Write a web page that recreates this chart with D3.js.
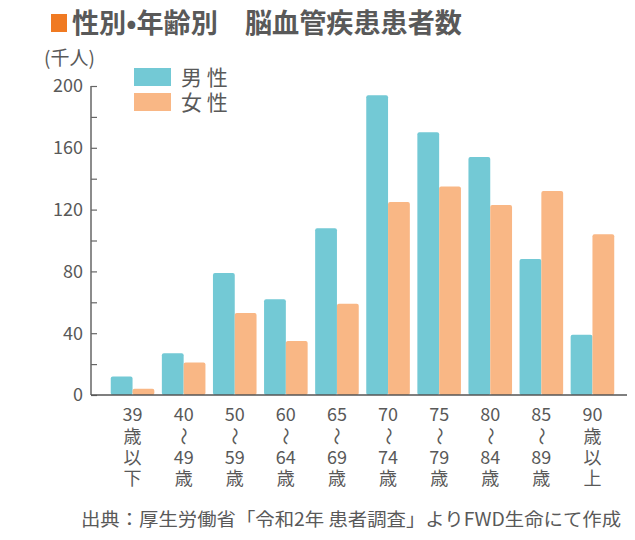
<!DOCTYPE html>
<html>
<head>
<meta charset="utf-8">
<script src="https://cdn.jsdelivr.net/npm/d3@7"></script>
<style>
  body { margin: 0; background: #fff; }
  svg text { font-family: "Noto Sans CJK JP", "Noto Sans", sans-serif; }
</style>
</head>
<body>
<div id="chart"></div>
<script>
// data (thousand people)
const categories = ["39歳以下", "40〜49歳", "50〜59歳", "60〜64歳", "65〜69歳",
                    "70〜74歳", "75〜79歳", "80〜84歳", "85〜89歳", "90歳以上"];
const tickLines = [
    ["39", "歳", "以", "下"], ["40", "〜", "49", "歳"], ["50", "〜", "59", "歳"],
    ["60", "〜", "64", "歳"], ["65", "〜", "69", "歳"], ["70", "〜", "74", "歳"],
    ["75", "〜", "79", "歳"], ["80", "〜", "84", "歳"], ["85", "〜", "89", "歳"],
    ["90", "歳", "以", "上"]
];
const male   = [12, 27, 79, 62, 108, 194, 170, 154, 88, 39];
const female = [4, 21, 53, 35, 59, 125, 135, 123, 132, 104];
const series = ["男 性", "女 性"];
const yTicks = [0, 40, 80, 120, 160, 200];
const yMinor = [20, 60, 100, 140, 180];

const width = 635, height = 540;
const colors = ["#73c9d5", "#f9b785"];
const textColor = "#595959";

const svg = d3.select("#chart")
    .append("svg")
    .attr("width", width)
    .attr("height", height);

const x = d3.scaleBand()
    .domain(categories)
    .range([107, 618])
    .paddingInner(0.147)
    .paddingOuter(0.0735);

const xSub = d3.scaleBand()
    .domain([0, 1])
    .range([0, x.bandwidth()]);

const y = d3.scaleLinear()
    .domain([0, 200])
    .range([395, 86]);

// title
svg.append("rect")
    .attr("x", 51).attr("y", 14)
    .attr("width", 16).attr("height", 18)
    .attr("fill", "#f07a22");

svg.append("text")
    .attr("x", 72).attr("y", 33)
    .attr("font-size", 27)
    .attr("font-weight", "bold")
    .attr("fill", textColor)
    .attr("textLength", 390)
    .attr("lengthAdjust", "spacingAndGlyphs")
    .text("性別•年齢別　脳血管疾患患者数");

svg.append("text")
    .attr("x", 44).attr("y", 65)
    .attr("font-size", 19)
    .attr("fill", textColor)
    .text("(千人)");

// bars
const rows = categories.map((c, i) => ({ cat: c, values: [male[i], female[i]] }));

svg.append("g")
    .selectAll("g")
    .data(rows)
    .join("g")
    .attr("transform", d => `translate(${x(d.cat)},0)`)
    .selectAll("rect")
    .data(d => d.values.map((v, k) => ({ k, v })))
    .join("rect")
    .attr("x", d => xSub(d.k))
    .attr("y", d => y(d.v))
    .attr("width", xSub.bandwidth())
    .attr("height", d => y(0) - y(d.v))
    .attr("rx", 2)
    .attr("fill", d => colors[d.k]);

// y axis: ticks point inward
const yAxis = g => g
    .attr("transform", "translate(91,0)")
    .call(d3.axisRight(y).tickValues(yTicks.concat(yMinor)).tickSize(6).tickFormat(""))
    .call(g => g.select(".domain").attr("stroke", "#666").attr("stroke-width", 1.5)
        .attr("d", `M0,${y(200)}V${y(0)}`))
    .call(g => g.selectAll(".tick line").attr("stroke", "#666").attr("stroke-width", 1.2));

svg.append("g").call(yAxis);

svg.append("g")
    .attr("font-size", 18)
    .attr("fill", textColor)
    .attr("text-anchor", "end")
    .selectAll("text")
    .data(yTicks)
    .join("text")
    .attr("x", 83)
    .attr("y", d => y(d))
    .attr("dy", "0.36em")
    .text(d => d);

// baseline
svg.append("line")
    .attr("x1", 91).attr("x2", 627)
    .attr("y1", y(0)).attr("y2", y(0))
    .attr("stroke", "#555")
    .attr("stroke-width", 1.5);

// x labels, written vertically
const labels = svg.append("g")
    .attr("font-size", 18)
    .attr("fill", textColor)
    .attr("text-anchor", "middle")
    .selectAll("g")
    .data(categories)
    .join("g")
    .attr("transform", d => `translate(${x(d) + x.bandwidth() / 2},0)`);

labels.selectAll("text")
    .data((d, i) => tickLines[i].map((t, j) => ({ t, j })))
    .join("text")
    .attr("transform", d => d.t === "〜"
        ? `translate(0,${415 + d.j * 21.3}) rotate(90)`
        : `translate(0,${415 + d.j * 21.3})`)
    .attr("dy", "0.36em")
    .text(d => d.t);

// legend
const legend = svg.append("g")
    .selectAll("g")
    .data(series)
    .join("g")
    .attr("transform", (d, i) => `translate(134,${68 + i * 25})`);

legend.append("rect")
    .attr("width", 37).attr("height", 18)
    .attr("fill", (d, i) => colors[i]);

legend.append("text")
    .attr("x", 47).attr("y", 9)
    .attr("dy", "0.36em")
    .attr("font-size", 21)
    .attr("fill", textColor)
    .text(d => d);

// source note
svg.append("text")
    .attr("x", 81).attr("y", 520)
    .attr("dy", "0.36em")
    .attr("font-size", 18)
    .attr("fill", textColor)
    .attr("textLength", 540)
    .attr("lengthAdjust", "spacingAndGlyphs")
    .text("出典：厚生労働省「令和2年 患者調査」よりFWD生命にて作成");
</script>
</body>
</html>
